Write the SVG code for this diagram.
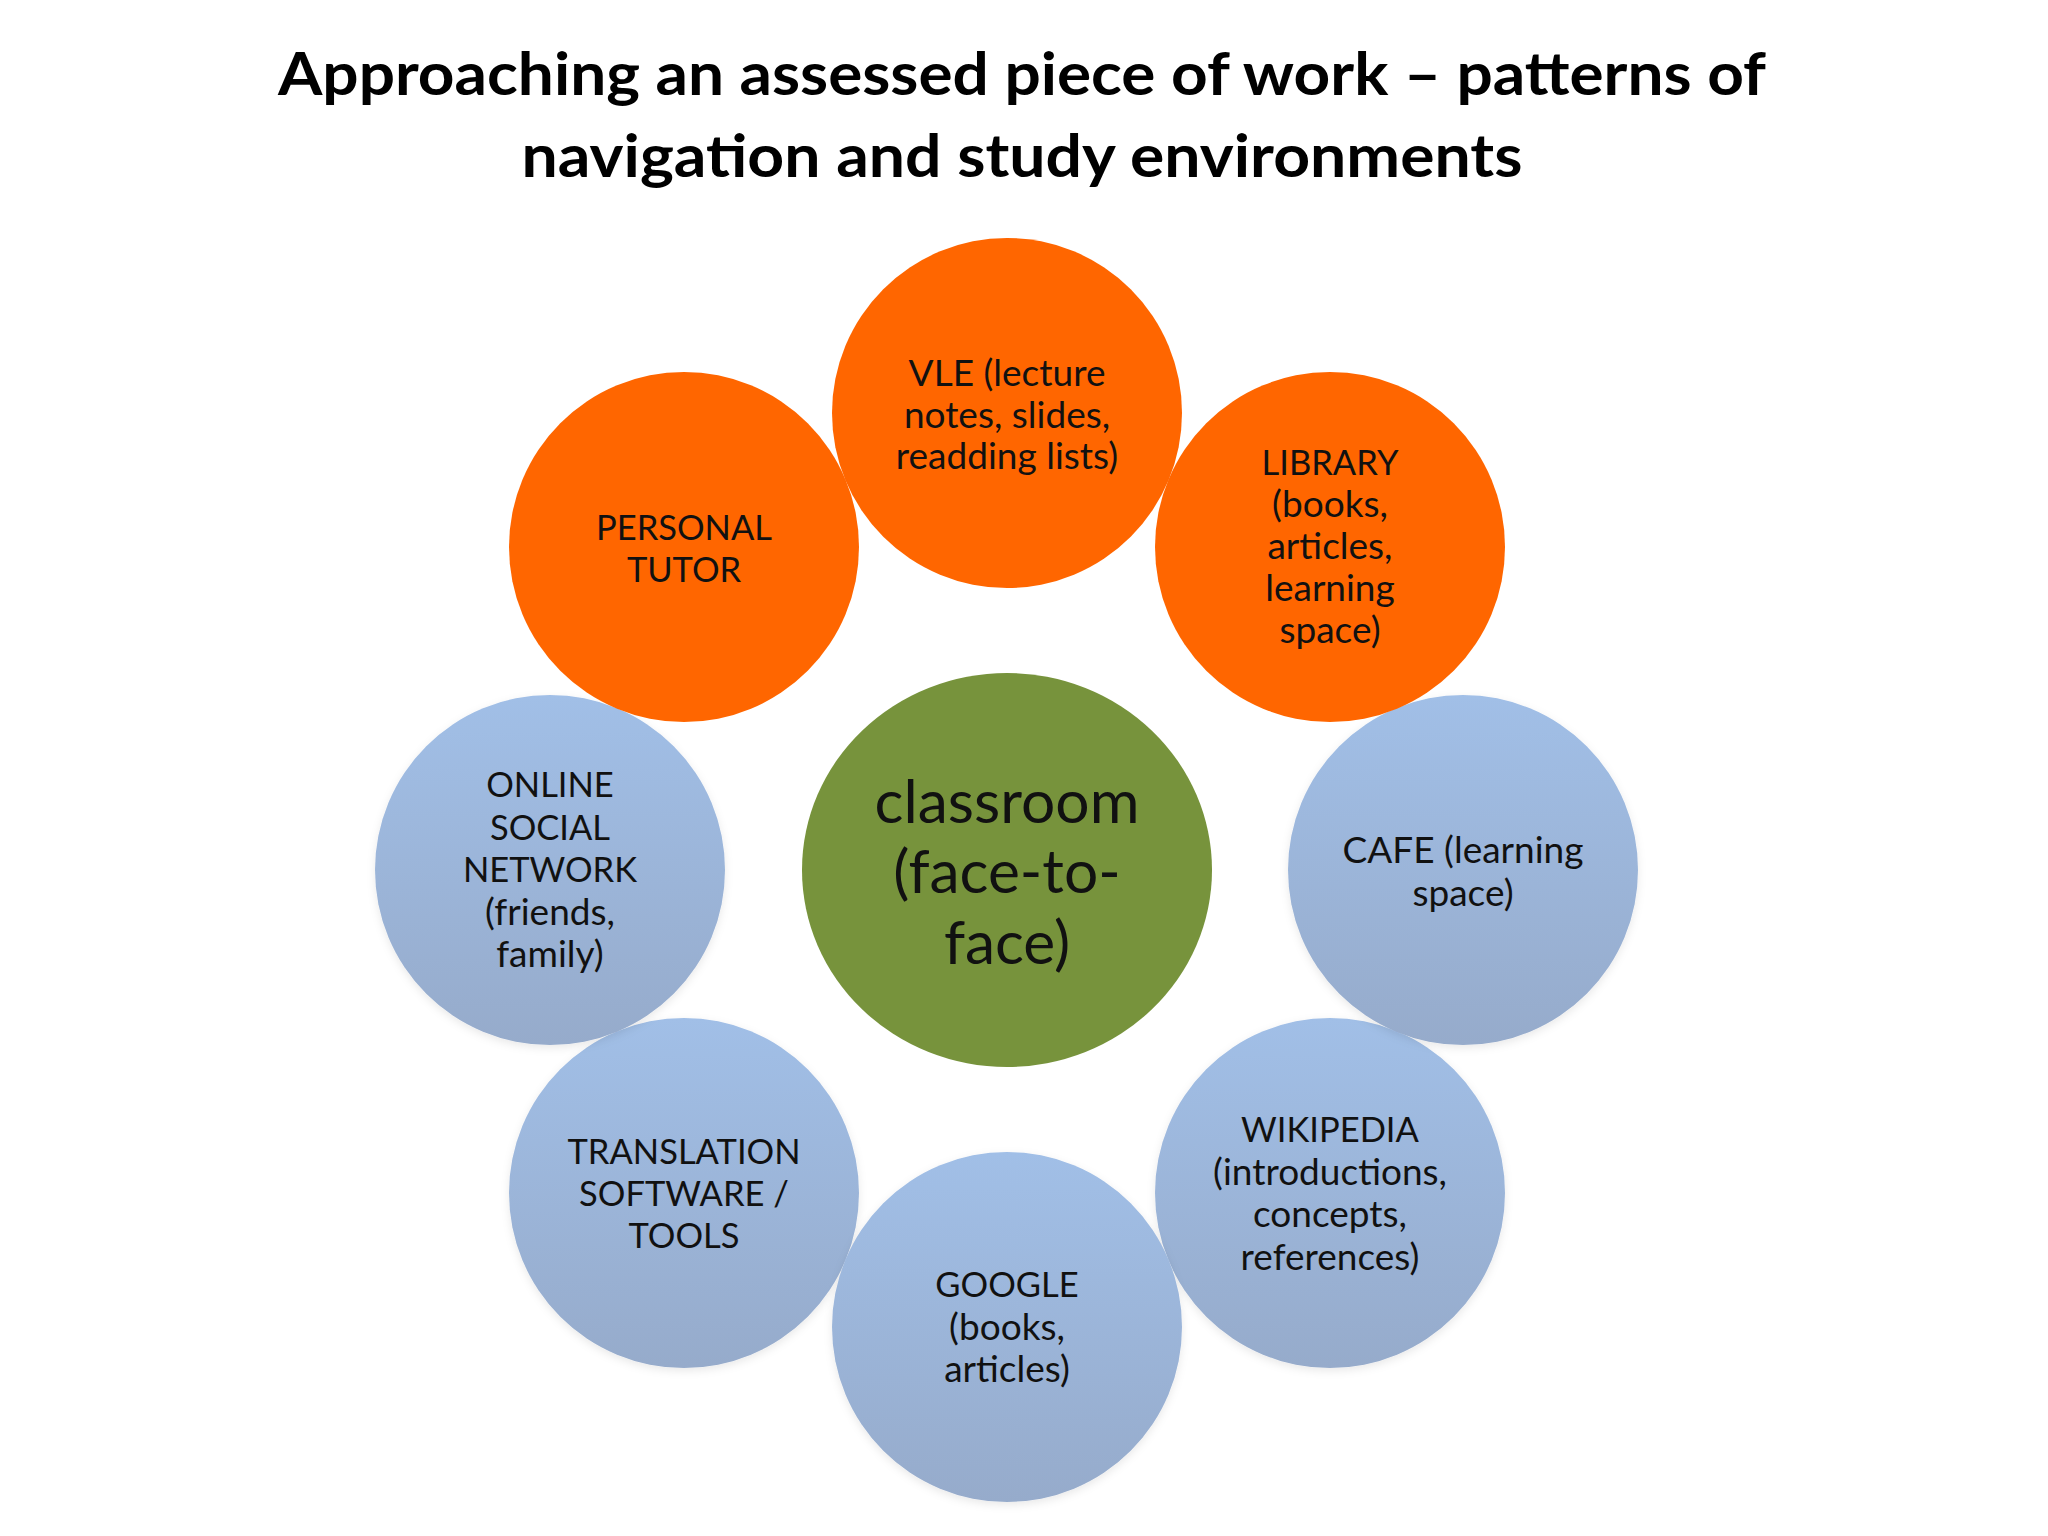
<svg xmlns="http://www.w3.org/2000/svg" width="2048" height="1536" viewBox="0 0 2048 1536">
<defs>
<linearGradient id="blue" x1="0" y1="0" x2="0" y2="1">
<stop offset="0" stop-color="#A1BFE7"/>
<stop offset="1" stop-color="#96ABCB"/>
</linearGradient>
<filter id="sh" x="-10%" y="-10%" width="120%" height="125%">
<feDropShadow dx="0" dy="3" stdDeviation="4" flood-color="#000" flood-opacity="0.09"/>
</filter>
</defs>
<style>
.title{font-family:Lato,"Liberation Sans",sans-serif;font-weight:bold;font-size:60px;fill:#000;text-anchor:middle}
.lbl{font-family:Lato,"Liberation Sans",sans-serif;font-size:37px;fill:#111;text-anchor:middle}
.cap{font-size:34.5px}
.big{font-family:Lato,"Liberation Sans",sans-serif;font-size:60.5px;fill:#111;text-anchor:middle}
.orange{fill:#FF6600}
.blue{fill:url(#blue);filter:url(#sh)}
.green{fill:#77933C}
</style>
<rect width="2048" height="1536" fill="#fff"/>
<g id="title">
<text class="title" x="1022" y="95" textLength="1488" lengthAdjust="spacingAndGlyphs">Approaching an assessed piece of work – patterns of</text>
<text class="title" x="1022" y="177" textLength="1001" lengthAdjust="spacingAndGlyphs">navigation and study environments</text>
</g>
<g id="connectors"></g>
<g id="translation">
<circle class="blue" cx="684" cy="1193" r="175"/>
<text class="lbl cap" x="684" y="1164">TRANSLATION</text>
<text class="lbl cap" x="684" y="1206">SOFTWARE /</text>
<text class="lbl cap" x="684" y="1248">TOOLS</text>
</g>
<g id="wikipedia">
<circle class="blue" cx="1330" cy="1193" r="175"/>
<text class="lbl cap" x="1330" y="1142">WIKIPEDIA</text>
<text class="lbl" x="1330" y="1184.5">(introductions,</text>
<text class="lbl" x="1330" y="1227">concepts,</text>
<text class="lbl" x="1330" y="1269.5">references)</text>
</g>
<g id="google">
<circle class="blue" cx="1007" cy="1327" r="175"/>
<text class="lbl cap" x="1007" y="1297">GOOGLE</text>
<text class="lbl" x="1007" y="1339.5">(books,</text>
<text class="lbl" x="1007" y="1382">articles)</text>
</g>
<g id="online">
<circle class="blue" cx="550" cy="870" r="175"/>
<text class="lbl cap" x="550" y="797">ONLINE</text>
<text class="lbl cap" x="550" y="839.5">SOCIAL</text>
<text class="lbl cap" x="550" y="882">NETWORK</text>
<text class="lbl" x="550" y="924.5">(friends,</text>
<text class="lbl" x="550" y="967">family)</text>
</g>
<g id="cafe">
<circle class="blue" cx="1463" cy="870" r="175"/>
<text class="lbl" x="1463" y="863">CAFE (learning</text>
<text class="lbl" x="1463" y="905.5">space)</text>
</g>
<g id="classroom">
<ellipse class="green" cx="1007" cy="870" rx="205" ry="197"/>
<text class="big" x="1007" y="823">classroom</text>
<text class="big" x="1007" y="893">(face-to-</text>
<text class="big" x="1007" y="964">face)</text>
</g>
<g id="vle">
<circle class="orange" cx="1007" cy="413" r="175"/>
<text class="lbl" x="1007" y="386">VLE (lecture</text>
<text class="lbl" x="1007" y="427.5">notes, slides,</text>
<text class="lbl" x="1007" y="469">readding lists)</text>
</g>
<g id="library">
<circle class="orange" cx="1330" cy="547" r="175"/>
<text class="lbl cap" x="1330" y="475">LIBRARY</text>
<text class="lbl" x="1330" y="517">(books,</text>
<text class="lbl" x="1330" y="559">articles,</text>
<text class="lbl" x="1330" y="601">learning</text>
<text class="lbl" x="1330" y="643">space)</text>
</g>
<g id="personal-tutor">
<circle class="orange" cx="684" cy="547" r="175"/>
<text class="lbl cap" x="684" y="540">PERSONAL</text>
<text class="lbl cap" x="684" y="582">TUTOR</text>
</g>
</svg>
